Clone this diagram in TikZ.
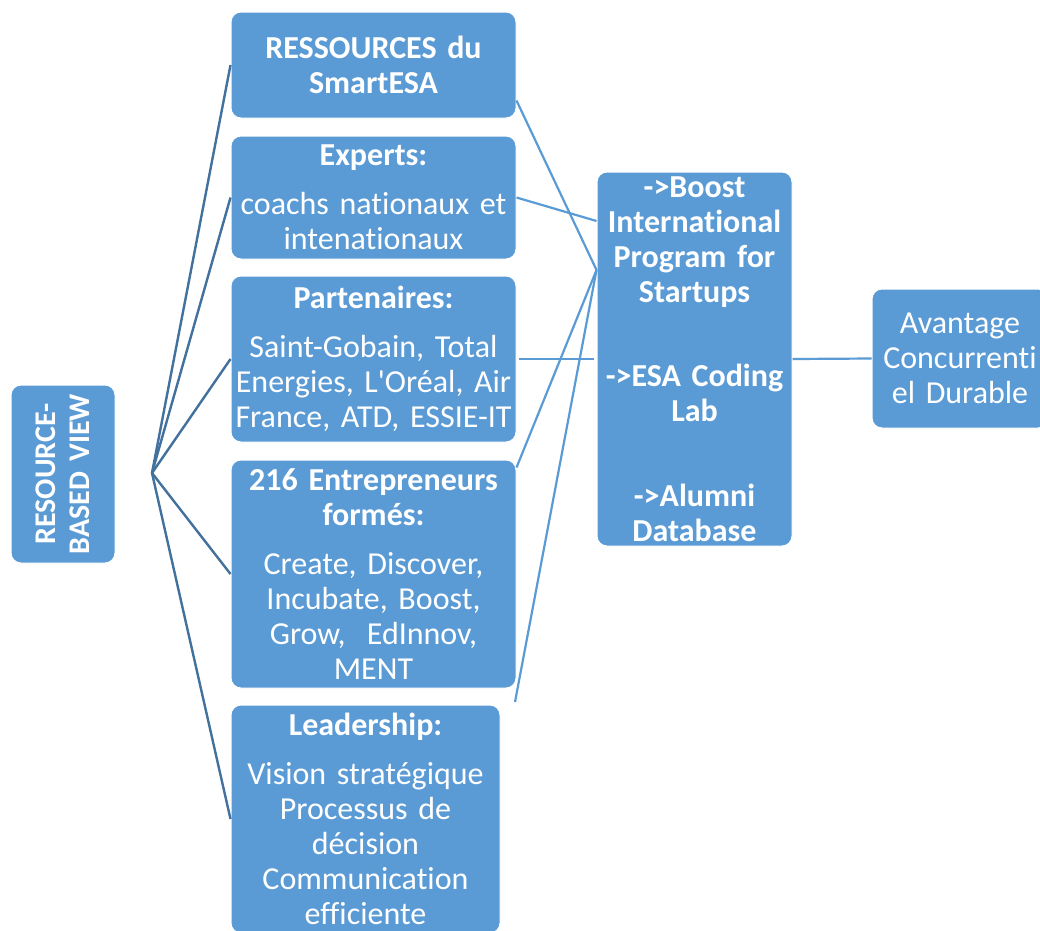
\documentclass[tikz,border=0pt]{standalone}
\usepackage{fontspec}
\setmainfont{Carlito}[Ligatures={NoCommon},WordSpace={0.85}]
\usetikzlibrary{calc}
\definecolor{boxblue}{HTML}{5B9BD5}
\definecolor{linedark}{HTML}{41719C}
\begin{document}
\begin{tikzpicture}[x=1pt,y=-1pt,
  box/.style={rectangle, rounded corners=10pt, fill=boxblue, draw=white, line width=1pt,
    text=white, align=center, inner sep=0pt, font=\fontsize{32}{35}\selectfont},
  fan/.style={draw=linedark, line width=2.4pt},
  link/.style={draw=boxblue, line width=2.2pt}]
\clip (0,0) rectangle (1040,930);
\fill[white] (0,0) rectangle (1040,930);

\node[box, rotate=90, minimum width=178pt, minimum height=104pt, text width=172pt,
  font=\fontsize{30}{34}\selectfont\bfseries] (rbv) at (63,474) {RESOURCE-\\BASED VIEW};

\node[box, minimum width=285pt, minimum height=106pt, text width=281pt] (b1) at (373.5,65)
  {\textbf{RESSOURCES du}\\\textbf{SmartESA}};
\node[box, minimum width=285pt, minimum height=123pt, text width=281pt] (b2) at (373.5,197.5)
  {\textbf{Experts:}\\[14pt]coachs nationaux et\\intenationaux};
\node[box, minimum width=285pt, minimum height=166pt, text width=281pt] (b3) at (373.5,359)
  {\textbf{Partenaires:}\\[14pt]Saint-Gobain, Total\\Energies, L\textquotesingle Oréal, Air\\France, ATD, ESSIE-IT};
\node[box, minimum width=285pt, minimum height=228pt, text width=281pt] (b4) at (373.5,574)
  {\textbf{216 Entrepreneurs}\\\textbf{formés:}\\[14pt]Create, Discover,\\Incubate, Boost,\\Grow,\ \ EdInnov,\\MENT};
\node[box, minimum width=269pt, minimum height=228pt, text width=265pt] (b5) at (365.5,819)
  {\textbf{Leadership:}\\[14pt]Vision stratégique\\Processus de\\décision\\Communication\\efficiente};

\node[box, minimum width=195pt, minimum height=374pt, text width=191pt] (c) at (694.5,359)
  {\textbf{->Boost}\\\textbf{International}\\\textbf{Program for}\\\textbf{Startups}\\[49pt]\textbf{->ESA Coding}\\\textbf{Lab}\\[50pt]\textbf{->Alumni}\\\textbf{Database}};

\node[box, minimum width=176pt, minimum height=139pt, text width=172pt] (r) at (960,358.5)
  {Avantage\\Concurrenti\\el Durable};

\coordinate (f) at (152,473);
\coordinate (e5) at (515,702);

\draw[fan] (f) -- (b1.west);
\draw[fan] (f) -- (b2.west);
\draw[fan] (f) -- (b3.west);
\draw[fan] (f) -- (b4.west);
\draw[fan] (f) -- (b5.west);

\draw[link] ([yshift=18pt]b1.south east) -- ([yshift=89pt]c.west);
\draw[link] (b2.east) -- ([yshift=138pt]c.west);
\draw[link] ([xshift=2pt]b3.east) -- ([xshift=-3pt]c.west);
\draw[link] ([yshift=-8pt]b4.north east) -- ([yshift=89pt]c.west);
\draw[link] (e5) -- ([yshift=89pt]c.west);
\draw[link] (c.east) -- (r.west);
\end{tikzpicture}
\end{document}
